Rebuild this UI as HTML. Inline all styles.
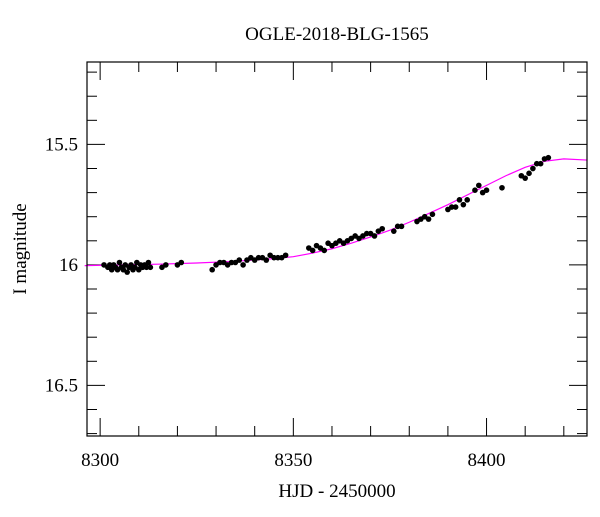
<!DOCTYPE html>
<html><head><meta charset="utf-8"><style>
body{margin:0;background:#fff;}
svg text{font-family:"Liberation Serif",serif;fill:#000;}
</style></head><body>
<svg id="chart" width="600" height="512">
<text x="337" y="40" font-size="19" text-anchor="middle">OGLE-2018-BLG-1565</text>
<text x="337" y="497" font-size="19" text-anchor="middle">HJD - 2450000</text>
<text transform="translate(26,249) rotate(-90)" font-size="19" text-anchor="middle">I magnitude</text>
<g id="ticks"></g>
<g id="model"></g>
<g id="points"></g>
<rect x="87" y="62" width="500" height="374" fill="none" stroke="#000" stroke-width="1.2"/>
</svg>
<script>
const xTickLabels=[8300,8350,8400];
const yTickLabels=[15.5,16,16.5];
const modelT=[8296,8305,8315,8325,8335,8345,8350,8355,8360,8365,8370,8375,8380,8385,8390,8395,8400,8405,8410,8415,8420,8426];
const modelM=[16.003,16.0,15.997,15.992,15.985,15.974,15.966,15.951,15.933,15.91,15.884,15.856,15.823,15.787,15.75,15.71,15.67,15.63,15.595,15.57,15.56,15.565];
const obsT=[8301,8302,8302.5,8303,8303.5,8304,8304.5,8305,8305.5,8306,8306.5,8307,8307.5,8308,8308.5,8309,8309.5,8310,8310.5,8311,8311.5,8312,8312.5,8313,8316,8317,8320,8321,8329,8330,8331,8332,8333,8334,8335,8336,8337,8338,8339,8340,8341,8342,8343,8344,8345,8346,8347,8348,8354,8355,8356,8357,8358,8359,8360,8361,8362,8363,8364,8365,8366,8367,8368,8369,8370,8371,8372,8373,8376,8377,8378,8382,8383,8384,8385,8386,8390,8391,8392,8393,8394,8395,8397,8398,8399,8400,8404,8409,8410,8411,8412,8413,8414,8415,8416];
const obsM=[16.0,16.01,16.0,16.02,16.0,16.01,16.02,15.99,16.01,16.02,16.0,16.03,16.01,16.0,16.02,16.01,15.99,16.02,16.0,16.01,16.0,16.01,15.99,16.01,16.01,16.0,16.0,15.99,16.02,16.0,15.99,15.99,16.0,15.99,15.99,15.98,16.0,15.98,15.97,15.98,15.97,15.97,15.98,15.96,15.97,15.97,15.97,15.96,15.93,15.94,15.92,15.93,15.94,15.91,15.92,15.91,15.90,15.91,15.90,15.89,15.88,15.89,15.88,15.87,15.87,15.88,15.86,15.85,15.86,15.84,15.84,15.82,15.81,15.8,15.81,15.79,15.77,15.76,15.76,15.73,15.75,15.73,15.69,15.67,15.7,15.69,15.68,15.63,15.64,15.62,15.6,15.58,15.58,15.56,15.555];
const X0=8296.6,X1=8426,Y0=15.158,Y1=16.71;
const L=87,R=587,T=62,B=436;
const xs=t=>L+(t-X0)/(X1-X0)*(R-L);
const ys=m=>T+(m-Y0)/(Y1-Y0)*(B-T);
const NS="http://www.w3.org/2000/svg";
const tg=document.getElementById('ticks');
function line(x1,y1,x2,y2,name){const l=document.createElementNS(NS,'line');l.setAttribute('x1',x1);l.setAttribute('y1',y1);l.setAttribute('x2',x2);l.setAttribute('y2',y2);l.setAttribute('stroke','#000');l.setAttribute('stroke-width','1');


tg.appendChild(l);}
for(let v=8300;v<=8420;v+=10){const x=xs(v);const major=(v%50===0);const len=major?18:10;line(x,B,x,B-len,'x-tick');line(x,T,x,T+len,'x-tick-top');}
for(let k=152;k<=167;k++){const v=k/10;const y=ys(v);const major=(k%5===0);const len=major?18:10;line(L,y,L+len,y,'y-tick');line(R,y,R-len,y,'y-tick-right');}
xTickLabels.forEach(v=>{const t=document.createElementNS(NS,'text');t.setAttribute('x',xs(v));t.setAttribute('y',B+30);t.setAttribute('font-size','19');t.setAttribute('text-anchor','middle');t.textContent=v;


tg.appendChild(t);});
yTickLabels.forEach(v=>{const t=document.createElementNS(NS,'text');t.setAttribute('x',L-9);t.setAttribute('y',ys(v)+6);t.setAttribute('font-size','19');t.setAttribute('text-anchor','end');t.textContent=v;


tg.appendChild(t);});
const pl=document.createElementNS(NS,'polyline');
pl.setAttribute('points',modelT.map((t,i)=>xs(t)+','+ys(modelM[i])).join(' '));
pl.setAttribute('fill','none');pl.setAttribute('stroke','#ff00ff');pl.setAttribute('stroke-width','1.2');


document.getElementById('model').appendChild(pl);
const pg=document.getElementById('points');
obsT.forEach((t,i)=>{const c=document.createElementNS(NS,'circle');c.setAttribute('cx',xs(t));c.setAttribute('cy',ys(obsM[i]));c.setAttribute('r',2.8);c.setAttribute('fill','#000');


pg.appendChild(c);});
</script>
</body></html>
